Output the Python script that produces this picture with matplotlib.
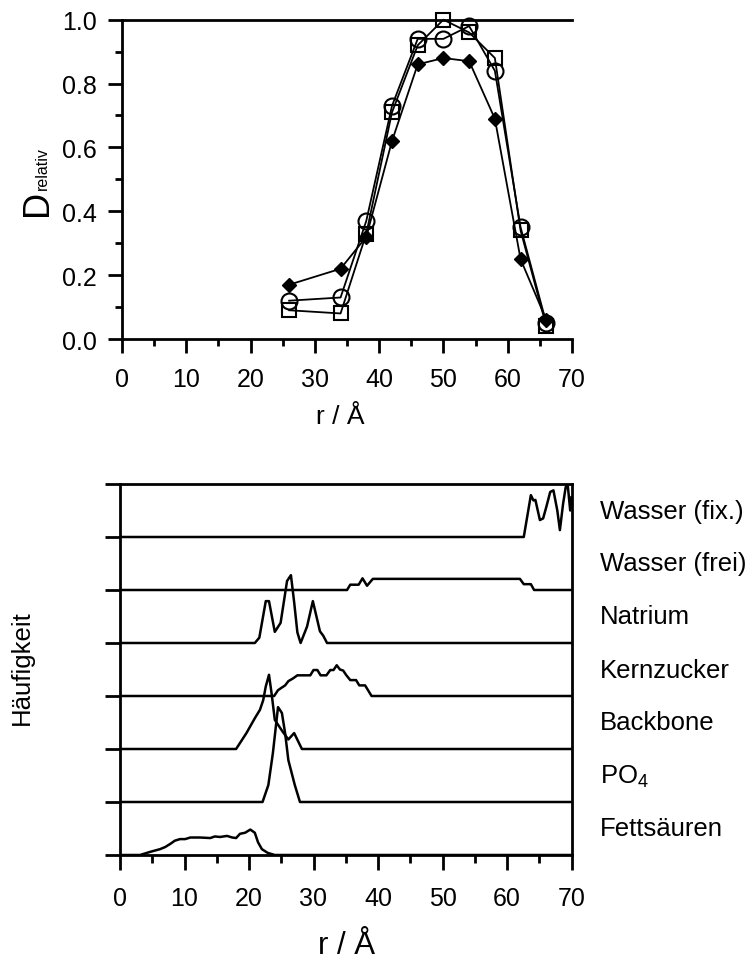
import matplotlib
matplotlib.use("Agg")
import matplotlib.pyplot as plt
from matplotlib.ticker import MultipleLocator, FormatStrFormatter

plt.rcParams['font.family'] = ['Liberation Sans', 'DejaVu Sans']
plt.rcParams['mathtext.fontset'] = 'custom'
plt.rcParams['mathtext.rm'] = 'Liberation Sans'
plt.rcParams['mathtext.it'] = 'Liberation Sans:italic'

# --- top panel: relative D vs r ---
r_top = [26, 34, 38, 42, 46, 50, 54, 58, 62, 66]
d_diamond = [0.17, 0.22, 0.32, 0.62, 0.86, 0.88, 0.87, 0.69, 0.25, 0.06]
d_circle = [0.12, 0.13, 0.37, 0.73, 0.94, 0.94, 0.98, 0.84, 0.35, 0.05]
d_square = [0.09, 0.08, 0.33, 0.71, 0.92, 1.00, 0.96, 0.88, 0.34, 0.04]

# --- bottom panel: stacked distributions (height above own baseline) ---
labels = ["Fettsäuren", "PO$_4$", "Backbone", "Kernzucker", "Natrium",
          "Wasser (frei)", "Wasser (fix.)"]

fett_r = [0, 3.1, 4.7, 6.2, 7.0, 7.8, 8.5, 9.3, 10.1, 10.9, 12.4, 14.0, 14.7, 15.5,
          16.6, 17.4, 18.0, 18.6, 19.4, 20.2, 20.9, 21.4, 22.0, 22.9, 24.0, 70]
fett_h = [0, 0, 0.06, 0.11, 0.15, 0.21, 0.27, 0.30, 0.30, 0.33, 0.33, 0.32, 0.35, 0.34,
          0.36, 0.33, 0.32, 0.40, 0.42, 0.48, 0.42, 0.24, 0.11, 0.04, 0, 0]

po4_r = [0, 22.1, 23.0, 23.7, 24.5, 25.1, 25.6, 26.1, 27.1, 27.9, 70]
po4_h = [0, 0, 0.32, 0.92, 1.79, 1.68, 1.30, 0.79, 0.32, 0, 0]

backbone_r = [0, 18.0, 19.6, 20.9, 21.7, 22.2, 22.6, 23.1, 23.5, 24.0, 25.2, 26.1,
              27.0, 27.4, 28.2, 70]
backbone_h = [0, 0, 0.30, 0.58, 0.74, 0.92, 1.18, 1.40, 1.05, 0.55, 0.33, 0.18,
              0.30, 0.20, 0, 0]

kern_r = [0, 23.9, 24.5, 25.1, 25.6, 26.1, 26.8, 27.5, 29.5, 30.0, 30.6, 31.1, 32.0,
          32.6, 33.1, 33.6, 34.1, 34.6, 35.1, 35.7, 36.6, 37.1, 38.0, 39.0, 70]
kern_h = [0, 0, 0.11, 0.16, 0.20, 0.28, 0.33, 0.39, 0.39, 0.49, 0.49, 0.39, 0.39,
          0.49, 0.49, 0.58, 0.50, 0.48, 0.39, 0.30, 0.30, 0.20, 0.20, 0, 0]

natrium_r = [0, 20.9, 21.6, 22.6, 23.1, 24.0, 24.9, 25.9, 26.5, 27.0, 27.5, 28.0,
             29.0, 29.9, 31.0, 31.5, 32.1, 70]
natrium_h = [0, 0, 0.10, 0.79, 0.79, 0.21, 0.38, 1.17, 1.28, 0.77, 0.20, 0,
             0.31, 0.79, 0.22, 0.14, 0, 0]

frei_r = [0, 35.2, 35.7, 37.0, 37.6, 38.3, 39.2, 62.0, 62.6, 63.7, 64.2, 70]
frei_h = [0, 0, 0.10, 0.10, 0.22, 0.08, 0.21, 0.21, 0.11, 0.11, 0, 0]

fix_r = [0, 62.6, 63.7, 64.1, 64.4, 65.1, 65.6, 66.1, 66.7, 67.2, 67.8, 68.2, 68.7,
         69.1, 69.4, 69.8, 70]
fix_h = [0, 0, 0.79, 0.69, 0.70, 0.32, 0.35, 0.57, 0.85, 0.88, 0.50, 0.13, 0.63,
         0.94, 1.0, 0.50, 0.75]

curves = [(fett_r, fett_h), (po4_r, po4_h), (backbone_r, backbone_h),
          (kern_r, kern_h), (natrium_r, natrium_h), (frei_r, frei_h), (fix_r, fix_h)]

W, H = 752, 962
fig = plt.figure(figsize=(W / 100, H / 100), dpi=100)

spine_w = 2.0


def style_axis(ax, tick_len, pad):
    ax.tick_params(which='major', direction='out', length=tick_len, width=spine_w,
                   labelsize=18, pad=pad)
    ax.tick_params(which='minor', direction='out', length=tick_len / 2, width=spine_w)
    for s in ax.spines.values():
        s.set_linewidth(spine_w)


# top axes
ax1 = fig.add_axes([122 / W, 1 - 340 / H, 450 / W, 319.3 / H])
ax1.plot(r_top, d_diamond, color='black', lw=1.3, marker='D', ms=7,
         mfc='black', mec='black', clip_on=False)
ax1.plot(r_top, d_circle, color='black', lw=1.3, marker='o', ms=11.5,
         mfc='none', mec='black', mew=1.5, clip_on=False)
ax1.plot(r_top, d_square, color='black', lw=1.3, marker='s', ms=10.5,
         mfc='none', mec='black', mew=1.5, clip_on=False)
ax1.set_xlim(0, 70)
ax1.set_ylim(0, 1.0)
ax1.xaxis.set_major_locator(MultipleLocator(10))
ax1.xaxis.set_minor_locator(MultipleLocator(5))
ax1.yaxis.set_major_locator(MultipleLocator(0.2))
ax1.yaxis.set_minor_locator(MultipleLocator(0.1))
ax1.yaxis.set_major_formatter(FormatStrFormatter('%.1f'))
style_axis(ax1, 10, 8)
ax1.tick_params(axis='x', which='major', pad=10)
ax1.spines['right'].set_visible(False)

fig.text(340 / W, 1 - 424 / H, "r / Å", fontsize=19, ha='center', va='baseline')
fig.text(47 / W, 1 - 203 / H, "D", fontsize=26, rotation=90,
         rotation_mode='anchor', ha='center', va='baseline')
fig.text(47 / W, 1 - 169 / H, "relativ", fontsize=11.5, rotation=90,
         rotation_mode='anchor', ha='center', va='baseline')

# bottom axes
ax2 = fig.add_axes([120 / W, 1 - 856 / H, 451.5 / W, 371 / H])
for i, (rr, hh) in enumerate(curves):
    ax2.plot(rr, [i + v for v in hh], color='black', lw=1.8)
    ax2.text(74.4, i + 0.5, labels[i], fontsize=18.5, ha='left', va='center',
             clip_on=False)
ax2.set_xlim(0, 70)
ax2.set_ylim(0, 7)
ax2.xaxis.set_major_locator(MultipleLocator(10))
ax2.xaxis.set_minor_locator(MultipleLocator(5))
ax2.set_yticks(range(8))
ax2.set_yticklabels([])
style_axis(ax2, 11, 11.5)

fig.text(346 / W, 1 - 954 / H, "r / Å", fontsize=22.5, ha='center', va='baseline')
fig.text(22 / W, 1 - 668 / H, "Häufigkeit", rotation=90, ha='center',
         va='center', fontsize=18.5)

fig.savefig("out.png", dpi=100)
